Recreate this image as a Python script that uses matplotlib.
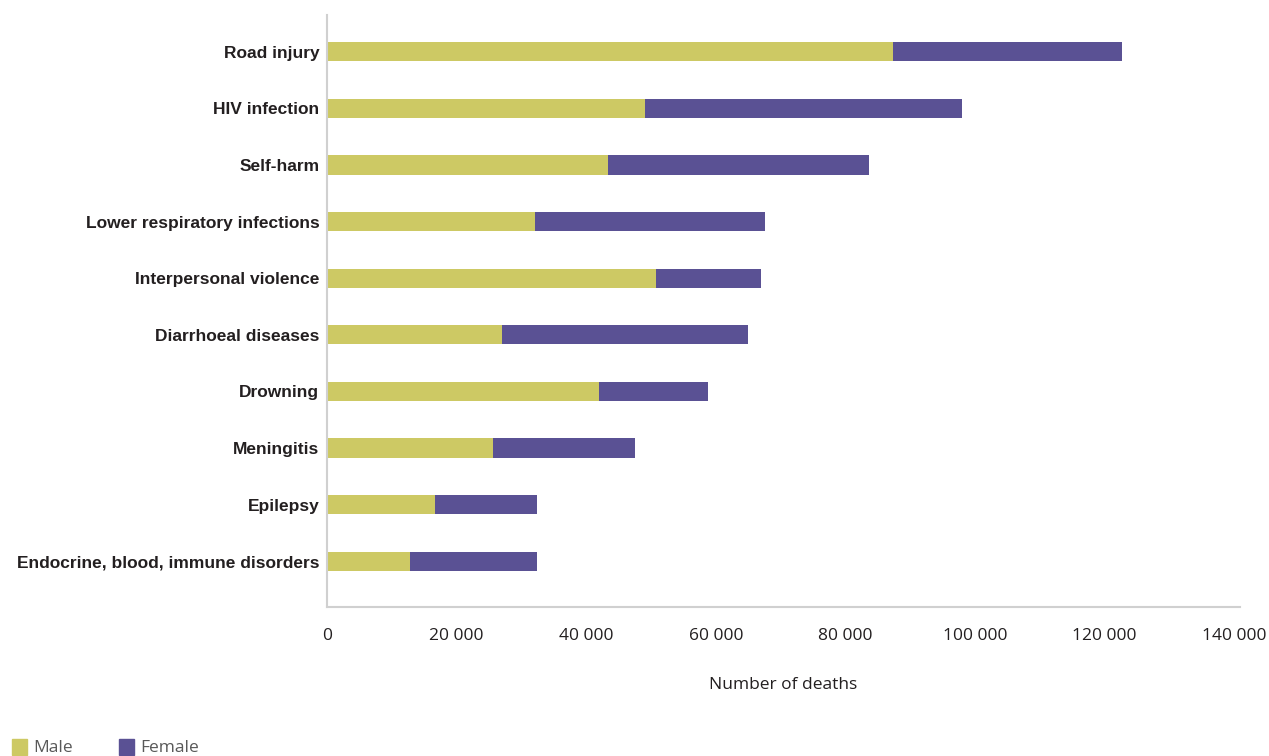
import numpy as np
import matplotlib.pyplot as plt
from matplotlib.patches import Rectangle

# causes, top to bottom as shown
causes = ['Road injury', 'HIV infection', 'Self-harm', 'Lower respiratory infections',
          'Interpersonal violence', 'Diarrhoeal diseases', 'Drowning', 'Meningitis',
          'Epilepsy', 'Endocrine, blood, immune disorders']
male = [87300, 49100, 43400, 32100, 50800, 27000, 42000, 25600, 16700, 12800]
female = [35400, 48900, 40200, 35500, 16200, 38000, 16800, 21900, 15700, 19600]
xticks = [0, 20000, 40000, 60000, 80000, 100000, 120000, 140000]

male_col = '#CDC964'
female_col = '#5A5194'
label_font = ['Liberation Sans Narrow', 'Liberation Sans', 'DejaVu Sans']
tick_font = ['Open Sans', 'DejaVu Sans']

fig = plt.figure(figsize=(12.69, 7.56), dpi=100)
ax = fig.add_axes([327 / 1269, 1 - 607 / 756, (1240 - 327) / 1269, (607 - 15) / 756])

y = np.arange(len(causes))[::-1]
ax.barh(y, male, height=0.34, color=male_col, label='Male')
ax.barh(y, female, left=male, height=0.34, color=female_col, label='Female')

ax.set_xlim(0, 140900)
ax.set_ylim(-0.81, 9.65)
ax.set_xticks(xticks)
ax.set_xticklabels([f'{v:,}'.replace(',', ' ') for v in xticks],
                   fontsize=12.5, family=tick_font, color='#231F20')
ax.set_yticks(y)
ax.set_yticklabels(causes, fontsize=12.5, fontweight='bold', family=label_font, color='#231F20')
ax.tick_params(axis='both', length=0)
ax.tick_params(axis='x', pad=15)
ax.tick_params(axis='y', pad=5.5)

for s in ['top', 'right']:
    ax.spines[s].set_visible(False)
for s in ['left', 'bottom']:
    ax.spines[s].set_color('#D0D0D0')
    ax.spines[s].set_linewidth(1.5)

fig.text(783 / 1269, 1 - 685 / 756, 'Number of deaths', ha='center', va='center',
         fontsize=12.5, family=tick_font, color='#231F20')

# legend along the bottom edge
for x0, col, name in [(12, male_col, 'Male'), (119, female_col, 'Female')]:
    fig.patches.append(Rectangle((x0 / 1269, 1 - 755 / 756), 15 / 1269, 16 / 756,
                                 transform=fig.transFigure, color=col))
    fig.text((x0 + 21) / 1269, 1 - 748 / 756, name, ha='left', va='center',
             fontsize=12.5, family=tick_font, color='#595959')

plt.savefig('out.png', dpi=100)
plt.close()
